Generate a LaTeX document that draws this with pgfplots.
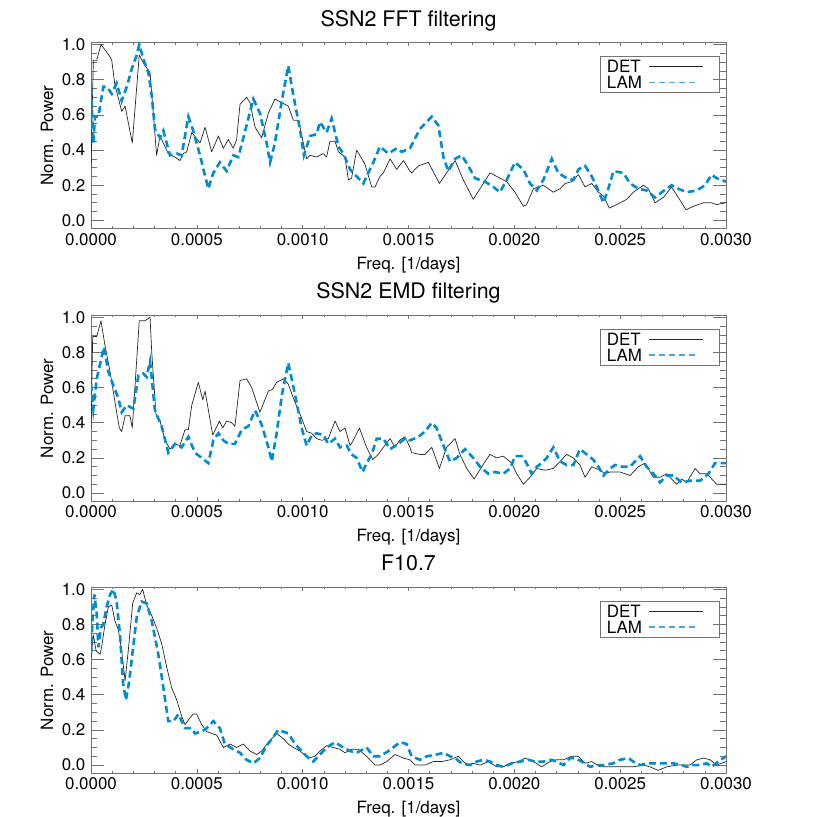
\documentclass[border=0pt]{standalone}
\usepackage{fontspec}
\setmainfont{TeX Gyre Heros}
\usepackage{pgfplots}
\pgfplotsset{compat=1.18}
\definecolor{lamblue}{RGB}{0,140,210}
\definecolor{lamlight}{RGB}{70,170,228}
\definecolor{frame}{gray}{0.45}
\newcommand{\panellegend}{%
  \draw[frame, line width=0.6bp] ([xshift=-126bp,yshift=-14bp]axis description cs:1,1) rectangle ([xshift=-7bp,yshift=-50bp]axis description cs:1,1);
  \node[anchor=west, inner sep=0pt, font=\fontsize{17}{17}\selectfont] at ([xshift=-119.3bp,yshift=-24bp]axis description cs:1,1) {DET};
  \node[anchor=west, inner sep=0pt, font=\fontsize{17}{17}\selectfont] at ([xshift=-119.3bp,yshift=-39.6bp]axis description cs:1,1) {LAM};
  \draw[black!85, line width=0.7bp] ([xshift=-77bp,yshift=-24bp]axis description cs:1,1) -- ([xshift=-23bp,yshift=-24bp]axis description cs:1,1);
  \draw[draw=lamlight, line width=1.2bp, dash pattern=on 5.7bp off 4.3bp] ([xshift=-77bp,yshift=-39.6bp]axis description cs:1,1) -- ([xshift=-31.3bp,yshift=-39.6bp]axis description cs:1,1);
}
\pgfplotsset{
  panel/.style={
    scale only axis, width=635bp, height=185.5bp,
    xmin=0, xmax=30, ymin=-0.045, ymax=1.01,
    axis line style={frame, line width=0.6bp},
    tick align=inside, xtick pos=both, ytick pos=both,
    xtick={0,5,10,15,20,25,30},
    xticklabels={0.0000,0.0005,0.0010,0.0015,0.0020,0.0025,0.0030},
    ytick={0,0.2,0.4,0.6,0.8,1.0},
    yticklabels={0.0,0.2,0.4,0.6,0.8,1.0},
    minor x tick num=4, minor y tick num=3,
    xtick style={frame, line width=0.6bp, /pgfplots/major tick length=3.7bp, /pgfplots/minor tick length=1.9bp},
    ytick style={frame, line width=0.6bp, /pgfplots/major tick length=12.7bp, /pgfplots/minor tick length=6.3bp},
    tick label style={font=\fontsize{17}{20}\selectfont, black},
    xticklabel style={inner sep=4.5bp},
    yticklabel style={inner sep=5.5bp},
    xlabel={Freq. [1/days]},
    ylabel={Norm. Power},
    every axis x label/.style={at={(axis description cs:0.5,0)}, anchor=base, yshift=-40.8bp, font=\fontsize{17}{20}\selectfont},
    every axis y label/.style={at={(axis description cs:0,0.5)}, rotate=90, anchor=center, yshift=44bp, font=\fontsize{17}{20}\selectfont},
    title style={font=\fontsize{21.5}{24}\selectfont, at={(axis description cs:0.5,1)}, anchor=base, yshift=10.6bp},
  },
  det/.style={black!85, line width=0.7bp, line join=round},
  lam/.style={lamblue, line width=2.6bp, dash pattern=on 7bp off 4bp},
}
\begin{document}
\begin{tikzpicture}
\path[use as bounding box] (0,0) rectangle (817bp,817bp);
% ---------------- Panel 1 ----------------
\begin{axis}[panel, at={(91bp,588.7bp)}, anchor=south west, title={SSN2 FFT filtering}]
\addplot[det] coordinates {
(0,0.29) (0.11,0.91) (0.27,0.91) (0.47,1.0) (0.66,0.97) (0.90,0.93) (0.98,0.91) (1.13,0.77)
(1.45,0.62) (1.61,0.65) (1.95,0.44) (2.28,0.94) (2.50,0.89) (2.79,0.84) (3.10,0.37) (3.26,0.48)
(3.65,0.38) (3.97,0.36) (4.20,0.34) (4.36,0.38) (4.52,0.39) (4.76,0.50) (5.15,0.44) (5.39,0.53)
(5.70,0.39) (6.02,0.48) (6.25,0.41) (6.49,0.46) (6.72,0.41) (6.88,0.46) (7.04,0.66) (7.35,0.70)
(7.51,0.67) (7.75,0.53) (8.06,0.47) (8.38,0.61) (8.69,0.69) (9.32,0.65) (9.56,0.57) (9.80,0.57)
(10.19,0.35) (10.35,0.37) (10.66,0.36) (10.98,0.38) (11.13,0.36) (11.29,0.45) (11.53,0.45) (11.69,0.39)
(12.0,0.36) (12.16,0.23) (12.31,0.24) (12.55,0.40) (12.94,0.32) (13.26,0.19) (13.42,0.19) (13.65,0.25)
(13.81,0.27) (14.13,0.35) (14.44,0.29) (14.76,0.34) (15.07,0.28) (15.15,0.27) (15.47,0.31) (15.94,0.33)
(16.46,0.21) (16.80,0.27) (17.2,0.34) (17.59,0.23) (18.06,0.12) (18.38,0.18) (18.85,0.27) (19.17,0.25)
(19.64,0.22) (20.03,0.16) (20.43,0.08) (20.58,0.09) (20.9,0.18) (21.37,0.20) (21.84,0.16) (22.16,0.18)
(22.4,0.21) (22.71,0.22) (23.03,0.26) (23.34,0.19) (23.66,0.21) (23.97,0.16) (24.2,0.14) (24.49,0.07)
(24.84,0.09) (25.31,0.12) (25.62,0.16) (26.1,0.20) (26.33,0.18) (26.65,0.10) (27.04,0.13) (27.43,0.19)
(27.75,0.13) (28.11,0.06) (28.46,0.08) (28.93,0.10) (29.32,0.10) (29.56,0.09) (30.0,0.10)
};
\addplot[lam] coordinates {
(0,0.75) (0.11,0.44) (0.19,0.59) (0.35,0.59) (0.58,0.76) (0.74,0.76) (0.98,0.72) (1.21,0.78)
(1.45,0.68) (1.69,0.76) (1.92,0.86) (2.16,0.94) (2.28,1.0) (2.47,0.92) (2.71,0.84) (2.87,0.71)
(3.02,0.52) (3.26,0.47) (3.42,0.51) (3.73,0.37) (4.05,0.38) (4.28,0.37) (4.6,0.59) (4.83,0.51)
(5.15,0.37) (5.54,0.18) (5.78,0.27) (6.09,0.33) (6.41,0.28) (6.72,0.37) (6.96,0.36) (7.2,0.47)
(7.67,0.69) (7.98,0.61) (8.3,0.44) (8.46,0.33) (8.69,0.44) (9.0,0.67) (9.32,0.88) (9.56,0.71)
(9.87,0.52) (10.06,0.37) (10.35,0.48) (10.66,0.49) (10.82,0.56) (11.13,0.50) (11.37,0.58) (11.69,0.42)
(11.92,0.38) (12.24,0.29) (12.55,0.25) (12.87,0.21) (13.02,0.25) (13.34,0.33) (13.65,0.42) (14.05,0.38)
(14.44,0.41) (14.68,0.39) (15.07,0.41) (15.54,0.52) (16.1,0.59) (16.41,0.54) (16.65,0.36) (16.88,0.28)
(17.2,0.35) (17.51,0.37) (17.83,0.31) (18.14,0.24) (18.62,0.22) (19.01,0.19) (19.32,0.16) (19.64,0.23)
(20.03,0.33) (20.43,0.29) (20.74,0.21) (21.06,0.17) (21.37,0.23) (21.77,0.35) (22.08,0.27) (22.47,0.24)
(22.79,0.23) (23.03,0.29) (23.34,0.31) (23.66,0.25) (23.89,0.19) (24.21,0.10) (24.44,0.18) (24.68,0.28)
(25.15,0.27) (25.47,0.21) (25.86,0.18) (26.25,0.17) (26.65,0.13) (26.96,0.16) (27.43,0.20) (27.75,0.18)
(28.14,0.16) (28.62,0.17) (29.01,0.20) (29.32,0.26) (29.56,0.24) (30.0,0.22)
};
\panellegend
\end{axis}
% ---------------- Panel 2 ----------------
\begin{axis}[panel, at={(91bp,316bp)}, anchor=south west, title={SSN2 EMD filtering}]
\addplot[det] coordinates {
(0,0.37) (0.08,0.89) (0.27,0.89) (0.47,0.98) (0.66,0.84) (0.90,0.69) (1.13,0.52) (1.34,0.37)
(1.45,0.35) (1.61,0.44) (1.84,0.44) (1.95,0.37) (2.28,0.98) (2.55,0.98) (2.79,1.0) (2.87,0.80)
(3.07,0.45) (3.26,0.41) (3.50,0.30) (3.73,0.25) (3.97,0.28) (4.20,0.27) (4.44,0.36) (4.60,0.36)
(4.76,0.50) (5.07,0.63) (5.28,0.53) (5.39,0.58) (5.75,0.33) (6.07,0.41) (6.22,0.37) (6.41,0.41)
(6.65,0.40) (6.80,0.38) (7.04,0.64) (7.35,0.65) (7.59,0.60) (7.98,0.46) (8.38,0.58) (8.58,0.59)
(8.77,0.63) (9.09,0.65) (9.32,0.62) (9.56,0.54) (9.87,0.45) (10.19,0.35) (10.43,0.34) (10.66,0.31)
(10.90,0.30) (11.21,0.31) (11.53,0.41) (11.76,0.35) (12.0,0.37) (12.24,0.27) (12.39,0.30) (12.68,0.37)
(13.02,0.26) (13.31,0.19) (13.57,0.22) (13.81,0.26) (14.13,0.31) (14.36,0.26) (14.57,0.30) (14.83,0.32)
(15.07,0.26) (15.15,0.23) (15.54,0.22) (15.78,0.22) (16.1,0.26) (16.46,0.14) (16.8,0.26) (17.2,0.31)
(17.43,0.22) (17.75,0.14) (18.1,0.08) (18.46,0.15) (18.85,0.22) (19.17,0.20) (19.48,0.21) (19.88,0.17)
(20.11,0.11) (20.43,0.05) (20.74,0.09) (21.06,0.14) (21.45,0.13) (21.84,0.14) (22.16,0.18) (22.47,0.22)
(22.79,0.20) (23.1,0.16) (23.34,0.09) (23.66,0.15) (24.05,0.13) (24.29,0.11) (24.52,0.12) (24.99,0.12)
(25.47,0.10) (25.86,0.15) (26.17,0.17) (26.57,0.09) (26.88,0.09) (27.2,0.11) (27.43,0.08) (27.67,0.05)
(27.91,0.08) (28.14,0.06) (28.54,0.14) (28.77,0.11) (29.09,0.11) (29.56,0.05) (30.0,0.05)
};
\addplot[lam] coordinates {
(0,0.62) (0.11,0.48) (0.27,0.65) (0.61,0.83) (0.82,0.69) (1.06,0.61) (1.29,0.54) (1.45,0.46)
(1.69,0.50) (2.0,0.48) (2.24,0.67) (2.47,0.68) (2.63,0.66) (2.79,0.75) (3.02,0.47) (3.34,0.38)
(3.65,0.23) (3.97,0.28) (4.28,0.26) (4.6,0.32) (4.91,0.23) (5.23,0.20) (5.54,0.17) (5.78,0.30)
(6.02,0.34) (6.25,0.30) (6.49,0.28) (6.80,0.28) (7.12,0.36) (7.43,0.38) (7.75,0.47) (8.06,0.39)
(8.38,0.26) (8.54,0.18) (8.77,0.34) (9.02,0.56) (9.32,0.74) (9.64,0.56) (9.95,0.37) (10.19,0.27)
(10.43,0.33) (10.66,0.34) (10.98,0.33) (11.21,0.28) (11.53,0.31) (11.76,0.26) (12.08,0.27) (12.31,0.22)
(12.55,0.20) (12.83,0.12) (13.02,0.17) (13.26,0.22) (13.5,0.31) (13.81,0.31) (14.13,0.25) (14.52,0.28)
(14.83,0.31) (15.07,0.30) (15.47,0.32) (15.78,0.35) (16.1,0.40) (16.33,0.37) (16.65,0.27) (16.96,0.18)
(17.28,0.20) (17.67,0.25) (18.06,0.20) (18.38,0.15) (18.77,0.11) (19.09,0.12) (19.48,0.11) (19.8,0.14)
(20.03,0.21) (20.35,0.21) (20.58,0.17) (20.82,0.11) (21.06,0.15) (21.29,0.17) (21.53,0.20) (21.84,0.26)
(22.16,0.18) (22.47,0.16) (22.79,0.16) (23.1,0.25) (23.42,0.22) (23.73,0.19) (23.97,0.15) (24.21,0.10)
(24.52,0.14) (24.76,0.16) (25.07,0.15) (25.47,0.15) (25.94,0.21) (26.25,0.15) (26.57,0.11) (26.88,0.06)
(27.2,0.10) (27.51,0.10) (27.91,0.06) (28.3,0.07) (28.77,0.07) (29.17,0.11) (29.48,0.17) (29.72,0.17)
(30.0,0.17)
};
\panellegend
\end{axis}
% ---------------- Panel 3 ----------------
\begin{axis}[panel, at={(91bp,44bp)}, anchor=south west, title={F10.7}]
\addplot[det] coordinates {
(0,0.61) (0.11,0.74) (0.24,0.65) (0.43,0.63) (0.50,0.67) (0.66,0.80) (0.82,0.90) (0.98,0.91)
(1.13,0.82) (1.29,0.77) (1.45,0.65) (1.61,0.48) (1.76,0.65) (1.97,0.92) (2.16,0.98) (2.31,0.97)
(2.44,1.0) (2.63,0.91) (2.87,0.85) (3.1,0.78) (3.34,0.69) (3.57,0.56) (3.81,0.44) (4.05,0.37)
(4.28,0.28) (4.44,0.23) (4.68,0.27) (4.83,0.29) (4.99,0.29) (5.23,0.23) (5.47,0.19) (5.70,0.18)
(5.94,0.17) (6.25,0.10) (6.57,0.12) (6.88,0.10) (7.2,0.12) (7.51,0.08) (7.83,0.06) (8.06,0.08)
(8.38,0.13) (8.77,0.18) (9.09,0.15) (9.32,0.12) (9.56,0.10) (9.87,0.08) (10.27,0.04) (10.58,0.05)
(10.82,0.08) (11.13,0.11) (11.45,0.10) (11.76,0.09) (12.0,0.07) (12.31,0.09) (12.63,0.09) (13.02,0.05)
(13.42,0.0) (13.65,0.0) (13.97,0.02) (14.36,0.06) (14.76,0.04) (15.07,0.03) (15.31,0.0) (15.78,0.0)
(16.17,0.02) (16.57,0.02) (16.96,0.03) (17.36,0.05) (17.75,0.0) (18.06,0.01) (18.38,0.0) (18.77,0.02)
(19.17,-0.01) (19.48,-0.01) (19.8,0.01) (20.19,0.02) (20.51,0.04) (20.9,0.02) (21.29,-0.01) (21.69,0.02)
(22.0,0.03) (22.32,0.03) (22.71,0.05) (23.03,0.05) (23.34,0.01) (23.66,0.02) (24.05,-0.01) (24.36,-0.01)
(24.84,-0.01) (25.31,-0.01) (25.62,-0.01) (26.1,0.0) (26.41,-0.01) (26.8,-0.03) (27.2,-0.01) (27.67,0.0)
(27.99,0.0) (28.3,0.0) (28.62,0.03) (28.93,0.04) (29.25,0.03) (29.56,0.0) (30.0,0.02)
};
\addplot[lam] coordinates {
(0,0.63) (0.08,0.84) (0.16,0.97) (0.27,0.86) (0.35,0.67) (0.46,0.78) (0.58,0.80) (0.74,0.90)
(0.90,0.97) (1.06,1.0) (1.21,0.93) (1.37,0.74) (1.52,0.46) (1.65,0.37) (1.81,0.48) (1.97,0.65)
(2.16,0.84) (2.39,0.93) (2.63,0.92) (2.87,0.82) (3.18,0.63) (3.42,0.44) (3.65,0.25) (3.90,0.25)
(4.13,0.29) (4.44,0.21) (4.76,0.21) (4.91,0.18) (5.23,0.19) (5.47,0.21) (5.78,0.25) (6.09,0.21)
(6.32,0.12) (6.72,0.09) (7.04,0.07) (7.35,0.03) (7.67,0.01) (7.98,0.04) (8.30,0.11) (8.61,0.16)
(8.85,0.20) (9.09,0.19) (9.32,0.18) (9.64,0.12) (9.95,0.08) (10.19,0.05) (10.50,0.02) (10.82,0.06)
(11.13,0.10) (11.53,0.13) (11.92,0.10) (12.24,0.08) (12.55,0.07) (13.02,0.10) (13.34,0.05) (13.65,0.05)
(14.05,0.08) (14.6,0.13) (14.91,0.12) (15.15,0.05) (15.54,0.03) (15.86,0.05) (16.33,0.06) (16.65,0.07)
(16.96,0.05) (17.2,0.04) (17.51,0.01) (17.91,0.0) (18.22,0.02) (18.54,0.03) (18.85,0.02) (19.17,0.0)
(19.48,-0.01) (19.88,0.01) (20.27,0.02) (20.66,0.03) (20.98,0.02) (21.37,0.02) (21.77,0.03) (22.0,0.02)
(22.32,0.0) (22.63,0.04) (22.87,0.04) (23.18,0.02) (23.58,-0.01) (23.89,0.0) (24.21,0.0) (24.68,0.01)
(24.99,0.03) (25.39,0.04) (25.62,0.02) (25.94,0.0) (26.33,0.01) (26.73,0.01) (27.2,0.01) (27.51,0.01)
(27.91,0.0) (28.14,-0.01) (28.46,0.0) (28.77,0.0) (29.09,0.01) (29.32,-0.01) (29.64,0.02) (30.0,0.05)
};
\panellegend
\end{axis}
\end{tikzpicture}
\end{document}
